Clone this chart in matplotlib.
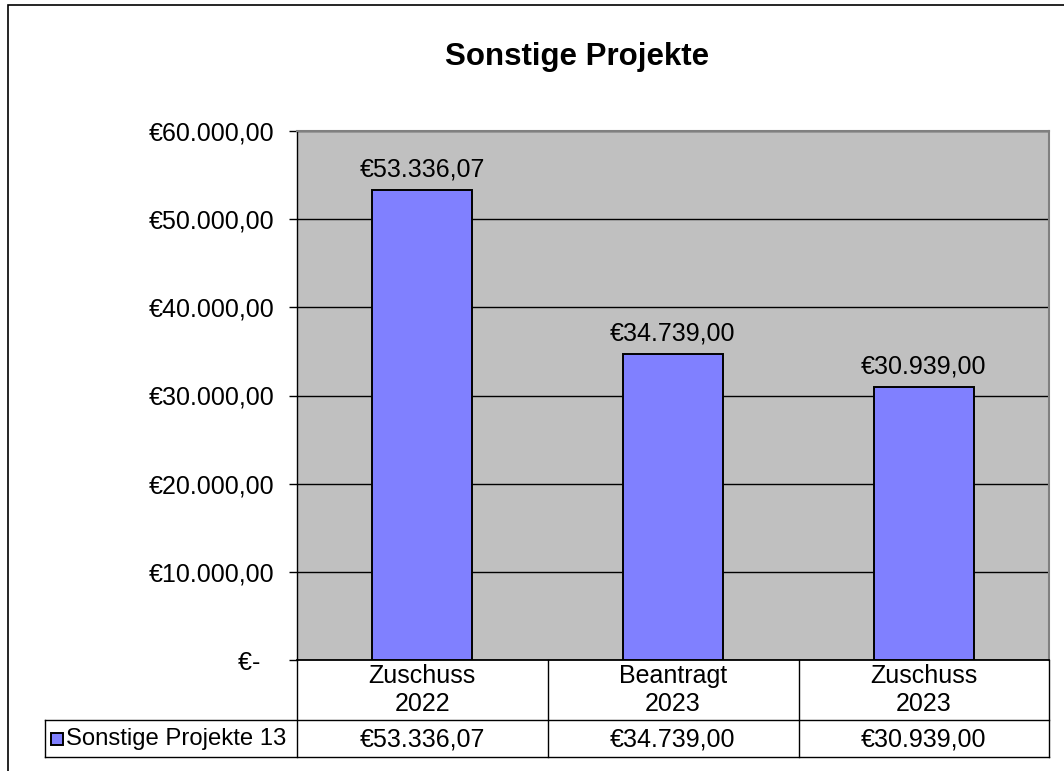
import matplotlib.pyplot as plt
from matplotlib.lines import Line2D
from matplotlib.patches import Rectangle
import matplotlib.transforms as mtransforms

plt.rcParams['font.family'] = ['Liberation Sans', 'DejaVu Sans']

title = "Sonstige Projekte"
series_name = "Sonstige Projekte 13"
categories = ["Zuschuss\n2022", "Beantragt\n2023", "Zuschuss\n2023"]
values = [53336.07, 34739.00, 30939.00]
value_labels = ["€53.336,07", "€34.739,00", "€30.939,00"]
y_ticks = [0, 10000, 20000, 30000, 40000, 50000, 60000]
y_tick_labels = ["€-  ", "€10.000,00", "€20.000,00", "€30.000,00",
                 "€40.000,00", "€50.000,00", "€60.000,00"]

FS = 18
W, H = 1064, 771
fig = plt.figure(figsize=(W / 100, H / 100), dpi=100)
fig.patch.set_facecolor("white")

# outer chart border
fig.add_artist(Rectangle((8 / W, -0.05), 1.1, 1 - 5 / H + 0.05,
                         transform=fig.transFigure, fill=False,
                         edgecolor="black", linewidth=1.2))

left, right, top, bottom = 297, 1049, 131, 660
ax = fig.add_axes([left / W, 1 - bottom / H, (right - left) / W, (bottom - top) / H])
ax.set_facecolor("#c0c0c0")

x = list(range(len(categories)))
ax.bar(x, values, width=0.4, color="#8080ff", edgecolor="black", linewidth=1.4, zorder=3)
for xi, v, lab in zip(x, values, value_labels):
    ax.annotate(lab, (xi, v), xytext=(0, 6), textcoords="offset points",
                ha="center", va="bottom", fontsize=FS)

ax.set_xlim(-0.5, len(categories) - 0.5)
ax.set_ylim(0, 60000)
ax.set_yticks(y_ticks)
ax.set_yticklabels(y_tick_labels, fontsize=FS)
ax.tick_params(axis="y", length=5.5, width=1, pad=11, direction="out")
ax.set_xticks([])
ax.yaxis.grid(True, color="black", linewidth=1)
ax.set_axisbelow(True)
for s in ["top", "right"]:
    ax.spines[s].set_color("#808080")
    ax.spines[s].set_linewidth(1.5)
ax.spines["left"].set_linewidth(1)
ax.spines["bottom"].set_linewidth(1.3)

fig.text(577 / W, 1 - 57 / H, title, ha="center", va="center",
         fontsize=22.5, fontweight="bold")

# data table below the plot
def fy(py):
    return 1 - py / H

def fx(px):
    return px / W

row1_top, row1_bot, row2_bot = 660, 720, 757
col_edges = [297, 548, 799, 1049]
lines = []
for c in col_edges:
    lines.append(([fx(c), fx(c)], [fy(row1_top), fy(row2_bot)]))
lines.append(([fx(45), fx(1049)], [fy(row1_bot), fy(row1_bot)]))
lines.append(([fx(45), fx(1049)], [fy(row2_bot), fy(row2_bot)]))
lines.append(([fx(45), fx(45)], [fy(row1_bot), fy(row2_bot)]))
for xs, ys in lines:
    fig.add_artist(Line2D(xs, ys, transform=fig.transFigure, color="black", linewidth=1))

trans = mtransforms.blended_transform_factory(ax.transData, fig.transFigure)
for xi, cat, lab in zip(x, categories, value_labels):
    fig.text(xi, fy(690), cat, transform=trans, ha="center",
             va="center", fontsize=FS, linespacing=1.2)
    fig.text(xi, fy(739), lab, transform=trans, ha="center",
             va="center", fontsize=FS)

# legend key in table
fig.add_artist(Rectangle((fx(51), fy(745)), 12 / W, 12 / H, transform=fig.transFigure,
                         facecolor="#8080ff", edgecolor="black", linewidth=1.4))
fig.text(fx(66), fy(739), series_name, ha="left", va="center", fontsize=17.2)

fig.savefig("out.png", dpi=100)
